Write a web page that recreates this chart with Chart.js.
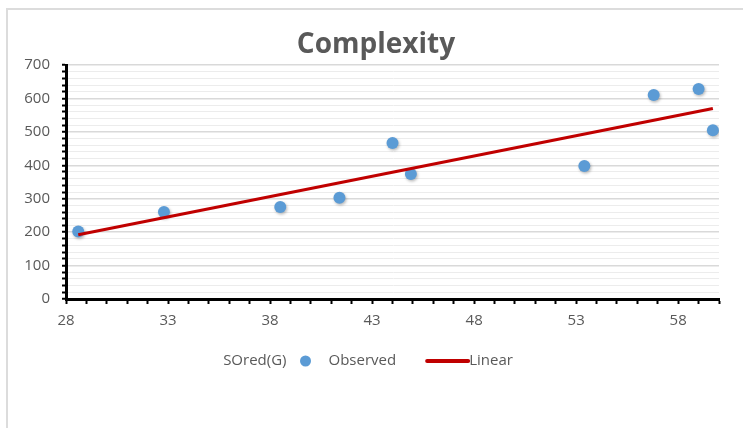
<!DOCTYPE html>
<html>
<head>
<meta charset="utf-8">
<script src="https://cdn.jsdelivr.net/npm/chart.js@4/dist/chart.umd.min.js"></script>
<style>
  html, body { margin: 0; padding: 0; background: #ffffff; overflow: hidden; }
  #frame { position: absolute; left: 6px; top: 8px; width: 800px; height: 480px;
           border-left: 2px solid #dcdcdc; border-top: 2px solid #dcdcdc; }
  #wrap { position: absolute; left: 0; top: 0; width: 743px; height: 428px; }
</style>
</head>
<body>
<div id="frame"></div>
<div id="wrap"><canvas id="c" width="743" height="428"></canvas></div>
<script>
// Observed points
const obsX = [28.6, 32.8, 38.5, 41.4, 44.0, 44.9, 53.4, 56.8, 59.0, 59.7];
const obsY = [202, 260, 275, 303, 467, 374, 398, 610, 628, 505];
// Linear trend end points
const linX = [28.6, 59.7];
const linY = [192, 570];
// Text
const chartTitle = 'Complexity';
const legendLabels = ['SOred(G)', 'Observed', 'Linear'];
// Axis ranges
const xMin = 28, xMax = 60, xMajorStep = 5;
const yMin = 0, yMax = 700, yMajorStep = 100, yMinorStep = 20;

const TEXT = '#595959';
const BLUE = '#5B9BD5';
const RED = '#C00000';
const FONT = '"Open Sans", "Liberation Sans", sans-serif';

const toPoints = (xs, ys) => xs.map((x, i) => ({ x: x, y: ys[i] }));

// Title and legend drawn on the canvas
const decor = {
  id: 'decor',
  afterDraw(chart) {
    const ctx = chart.ctx;
    ctx.save();
    ctx.fillStyle = TEXT;
    ctx.font = 'bold 28px ' + FONT;
    ctx.textAlign = 'center';
    ctx.textBaseline = 'alphabetic';
    ctx.fillText(chartTitle, 376, 53);

    ctx.font = '15px ' + FONT;
    ctx.textBaseline = 'middle';
    ctx.textAlign = 'left';
    const w0 = ctx.measureText(legendLabels[0]).width;
    const w1 = ctx.measureText(legendLabels[1]).width;
    const w2 = ctx.measureText(legendLabels[2]).width;
    const gapA = 13, dotD = 12, gapB = 17, gapC = 31, lineW = 41, gapD = 1;
    const total = w0 + gapA + dotD + gapB + w1 + gapC + lineW + gapD + w2;
    let x = 368 - total / 2;
    const y = 361;
    ctx.fillText(legendLabels[0], x, y);
    x += w0 + gapA;
    ctx.fillStyle = BLUE;
    ctx.beginPath();
    ctx.arc(x + dotD / 2, y, dotD / 2 - 0.5, 0, Math.PI * 2);
    ctx.fill();
    x += dotD + gapB;
    ctx.fillStyle = TEXT;
    ctx.fillText(legendLabels[1], x, y);
    x += w1 + gapC;
    ctx.strokeStyle = RED;
    ctx.lineWidth = 4;
    ctx.lineCap = 'round';
    ctx.beginPath();
    ctx.moveTo(x, y);
    ctx.lineTo(x + lineW, y);
    ctx.stroke();
    x += lineW + gapD;
    ctx.fillText(legendLabels[2], x, y);
    ctx.restore();
  }
};

// Soft shadow under the observed markers
const markerShadow = {
  id: 'markerShadow',
  beforeDatasetDraw(chart, args) {
    if (args.index !== 1) return;
    const ctx = chart.ctx;
    ctx.save();
    ctx.shadowColor = 'rgba(0,0,0,0.28)';
    ctx.shadowBlur = 3;
    ctx.shadowOffsetX = 1;
    ctx.shadowOffsetY = 1.5;
  },
  afterDatasetDraw(chart, args) {
    if (args.index !== 1) return;
    chart.ctx.restore();
  }
};

new Chart(document.getElementById('c'), {
  type: 'scatter',
  data: {
    datasets: [
      {
        label: legendLabels[2],
        data: toPoints(linX, linY),
        showLine: true,
        borderColor: RED,
        borderWidth: 3,
        pointRadius: 0,
        pointHoverRadius: 0,
        order: 0
      },
      {
        label: legendLabels[1],
        data: toPoints(obsX, obsY),
        backgroundColor: BLUE,
        borderWidth: 0,
        pointRadius: 6,
        pointHoverRadius: 6,
        order: 1
      }
    ]
  },
  options: {
    responsive: false,
    animation: false,
    events: [],
    layout: { padding: { left: 0, top: 65, right: 24, bottom: 0 } },
    plugins: {
      legend: { display: false },
      title: { display: false },
      tooltip: { enabled: false }
    },
    scales: {
      x: {
        type: 'linear',
        min: xMin,
        max: xMax,
        afterFit(scale) { scale.height = 129; },
        border: { display: true, color: '#000000', width: 3 },
        grid: {
          drawOnChartArea: false,
          drawTicks: true,
          tickLength: 5,
          tickColor: '#000000',
          tickWidth: 2
        },
        ticks: {
          stepSize: 1,
          autoSkip: false,
          maxRotation: 0,
          minRotation: 0,
          padding: 8,
          color: TEXT,
          font: { family: FONT, size: 15 },
          callback: (v) => ((v - xMin) % xMajorStep === 0 ? String(v) : '')
        }
      },
      y: {
        min: yMin,
        max: yMax,
        afterFit(scale) { scale.width = 66; },
        border: { display: true, color: '#000000', width: 3 },
        grid: {
          drawOnChartArea: true,
          drawTicks: true,
          tickLength: 4,
          tickColor: '#000000',
          tickWidth: 2,
          color: (c) => (c.tick && c.tick.value % yMajorStep === 0 ? '#d9d9d9' : '#ececec'),
          lineWidth: (c) => (c.tick && c.tick.value % yMajorStep === 0 ? 1.5 : 1)
        },
        ticks: {
          stepSize: yMinorStep,
          autoSkip: false,
          padding: 12,
          color: TEXT,
          font: { family: FONT, size: 15 },
          callback: (v) => (v % yMajorStep === 0 ? String(v) : '')
        }
      }
    }
  },
  plugins: [markerShadow, decor]
});
</script>
</body>
</html>
